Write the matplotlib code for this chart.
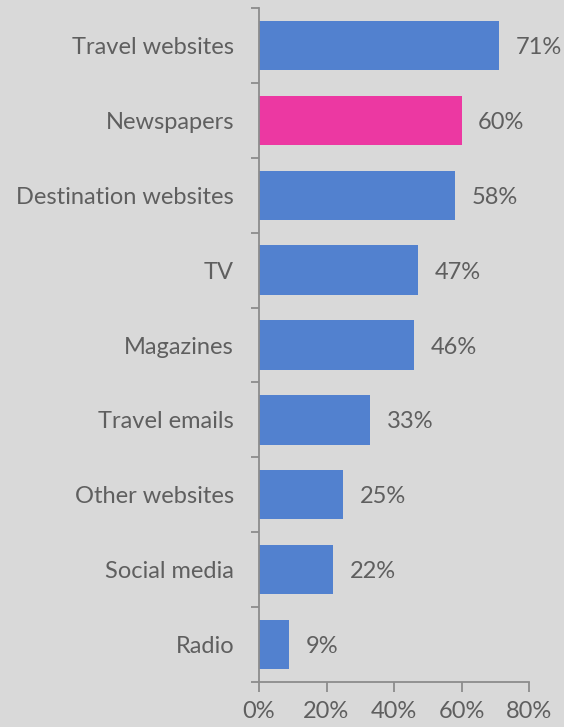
import matplotlib.pyplot as plt
import numpy as np

categories = ['Travel websites', 'Newspapers', 'Destination websites', 'TV', 'Magazines',
              'Travel emails', 'Other websites', 'Social media', 'Radio']
values = [71, 60, 58, 47, 46, 33, 25, 22, 9]
highlight = 'Newspapers'

bg = '#d9d9d9'
blue = '#5281cf'
pink = '#ec38a2'
text_col = '#5f5f5f'
axis_col = '#8c8c8c'

plt.rcParams['font.family'] = ['Lato', 'DejaVu Sans']

fig = plt.figure(figsize=(5.64, 7.27), dpi=100, facecolor=bg)
ax = fig.add_axes([259 / 564, 1 - 682 / 727, 270 / 564, 674 / 727])
ax.set_facecolor(bg)

y = np.arange(len(categories))
colors = [pink if c == highlight else blue for c in categories]
ax.barh(y, values, height=0.66, color=colors)

for yi, v in zip(y, values):
    ax.annotate(f'{v}%', (v, yi), xytext=(12, -1.5), textcoords='offset points',
                va='center', ha='left', fontsize=17, color=text_col)

ax.set_ylim(len(categories) - 0.5, -0.5)
ax.set_xlim(0, 80)
ax.set_yticks(y)
ax.set_yticklabels(categories)
ax.set_yticks(np.arange(len(categories) + 1) - 0.5, minor=True)
ax.tick_params(axis='y', which='major', length=0, pad=18, labelsize=17, labelcolor=text_col)
ax.tick_params(axis='y', which='minor', length=6, color=axis_col, width=1.3)

ax.set_xticks([0, 20, 40, 60, 80])
ax.set_xticklabels(['0%', '20%', '40%', '60%', '80%'])
ax.tick_params(axis='x', length=7, color=axis_col, width=1.3, labelsize=17,
               labelcolor=text_col, pad=7)

for s in ['top', 'right']:
    ax.spines[s].set_visible(False)
for s in ['left', 'bottom']:
    ax.spines[s].set_color(axis_col)
    ax.spines[s].set_linewidth(1.3)

fig.savefig('out.png', dpi=100, facecolor=bg)
